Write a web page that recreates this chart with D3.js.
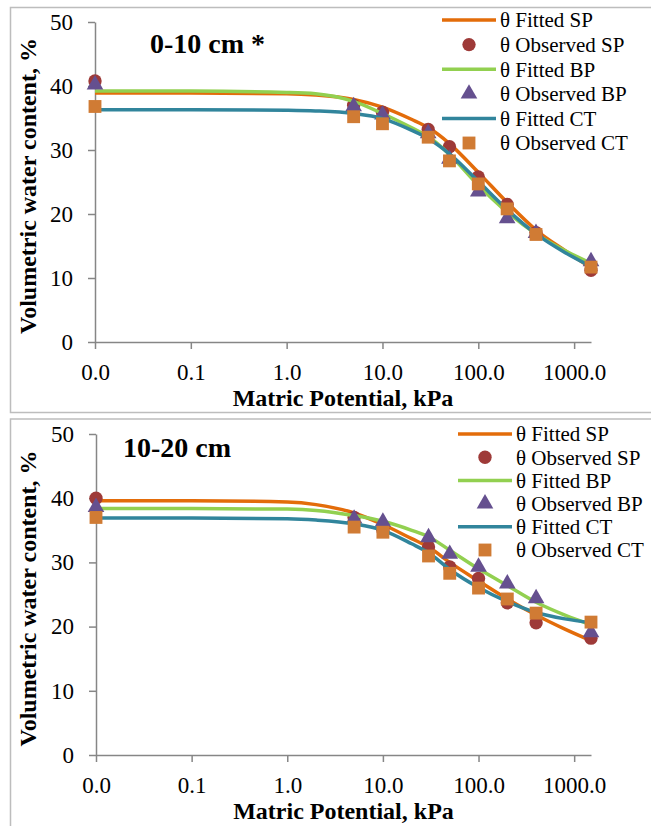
<!DOCTYPE html>
<html lang="en">
<head>
    <meta charset="UTF-8">
    <title>Water retention curves</title>
    <script src="https://d3js.org/d3.v7.min.js"></script>
    <style>
        body { margin: 0; background: #fff; }
        svg text { font-family: "Liberation Serif", "Times New Roman", serif; }
    </style>
</head>
<body>
<svg></svg>
<script>
    // matric potential (kPa) where samples were measured
    const potentials = [0.01, 5, 10, 30, 50, 100, 200, 400, 1500];
    const fitPotentials = [0.01, 0.1, 1, 2, 5, 10, 20, 30, 50, 100, 200, 400, 800, 1500];

    // 0-10 cm
    const obsSP_top = [40.8, 37.0, 35.9, 33.2, 30.5, 25.8, 21.5, 17.1, 11.2];
    const obsBP_top = [40.2, 36.8, 35.5, 32.6, 28.6, 23.5, 19.3, 17.0, 12.6];
    const obsCT_top = [36.8, 35.2, 34.1, 32.0, 28.3, 24.7, 20.8, 16.8, 11.7];
    const fitSP_top = [38.9, 38.9, 38.8, 38.6, 37.9, 36.7, 34.8, 33.5, 31.0, 26.5, 21.8, 17.5, 14.3, 11.6];
    const fitBP_top = [39.2, 39.2, 39.0, 38.8, 37.6, 35.7, 33.5, 32.1, 29.3, 24.5, 20.3, 16.9, 14.3, 12.3];
    const fitCT_top = [36.3, 36.3, 36.2, 36.1, 35.7, 34.9, 33.1, 31.8, 29.4, 25.1, 20.7, 16.9, 14.0, 11.8];

    // 10-20 cm
    const obsSP_bot = [40.0, 37.0, 35.0, 32.4, 29.3, 27.5, 23.7, 20.6, 18.2];
    const obsBP_bot = [38.6, 36.8, 36.3, 33.9, 31.3, 29.3, 26.7, 24.4, 19.1];
    const obsCT_bot = [37.0, 35.5, 34.7, 31.0, 28.3, 26.0, 24.3, 22.1, 20.7];
    const fitSP_bot = [39.6, 39.6, 39.4, 39.0, 37.7, 35.9, 33.7, 32.4, 30.0, 27.1, 24.3, 21.8, 19.6, 17.8];
    const fitBP_bot = [38.4, 38.4, 38.3, 38.1, 37.3, 36.4, 35.0, 34.0, 31.9, 29.0, 26.4, 23.8, 21.8, 20.3];
    const fitCT_bot = [36.9, 36.9, 36.8, 36.6, 36.0, 35.0, 32.9, 31.5, 28.9, 26.1, 23.9, 22.2, 21.2, 20.6];

    const xTicks = [0.01, 0.1, 1, 10, 100, 1000];
    const yTicks = [0, 10, 20, 30, 40, 50];
    const legendLabels = ["θ Fitted SP", "θ Observed SP", "θ Fitted BP", "θ Observed BP", "θ Fitted CT", "θ Observed CT"];

    const colors = {
        SP: "#e36c0a", obsSP: "#9e3a38",
        BP: "#92d050", obsBP: "#65508f",
        CT: "#31859c", obsCT: "#d07b34"
    };

    const serif = "'Liberation Serif', 'Times New Roman', serif";
    const width = 651, height = 826;
    const svg = d3.select("svg").attr("width", width).attr("height", height);

    const panels = [
        {
            title: "0-10 cm *", titleX: 150, titleY: 53,
            frameY: 7.5, frameH: 405,
            left: 95, right: 591, top: 22, bottom: 342,
            legendX: 442, legendY: 20, legendStep: 24.6,
            obs: [obsSP_top, obsBP_top, obsCT_top],
            fit: [fitSP_top, fitBP_top, fitCT_top]
        },
        {
            title: "10-20 cm", titleX: 123, titleY: 457,
            frameY: 419, frameH: 500,
            left: 96, right: 591, top: 434, bottom: 755,
            legendX: 458, legendY: 434, legendStep: 23.2,
            obs: [obsSP_bot, obsBP_bot, obsCT_bot],
            fit: [fitSP_bot, fitBP_bot, fitCT_bot]
        }
    ];

    const keys = ["SP", "BP", "CT"];
    const shapes = [d3.symbolCircle, d3.symbolTriangle, d3.symbolSquare];
    const shapeSizes = [140, 120, 165];

    panels.forEach(function (p) {
        // outer frame
        svg.append("rect")
            .attr("x", 10.5).attr("y", p.frameY)
            .attr("width", 700).attr("height", p.frameH)
            .attr("fill", "none")
            .attr("stroke", "#bdbdbd")
            .attr("stroke-width", 1.5);

        let x = d3.scaleLog().domain([0.01, 1500]).range([p.left, p.right]);
        let y = d3.scaleLinear().domain([0, 50]).range([p.bottom, p.top]);

        let xAxis = d3.axisBottom(x)
            .tickValues(xTicks)
            .tickFormat(d3.format(".1f"))
            .tickSize(7)
            .tickPadding(15)
            .tickSizeOuter(0);
        let yAxis = d3.axisLeft(y)
            .tickValues(yTicks)
            .tickSize(7)
            .tickPadding(15)
            .tickSizeOuter(0);

        let gx = svg.append("g")
            .attr("transform", "translate(0," + p.bottom + ")")
            .call(xAxis);
        let gy = svg.append("g")
            .attr("transform", "translate(" + p.left + ",0)")
            .call(yAxis);
        [gx, gy].forEach(function (g) {
            g.attr("font-family", serif).attr("font-size", 23);
            g.select(".domain").attr("stroke", "#868686").attr("stroke-width", 1.5);
            g.selectAll(".tick line").attr("stroke", "#868686").attr("stroke-width", 1.5);
            g.selectAll(".tick text").attr("fill", "#000");
        });

        // axis titles
        svg.append("text")
            .attr("x", (p.left + p.right) / 2 - 0)
            .attr("y", p.bottom + 64)
            .attr("text-anchor", "middle")
            .style("font-size", "24px")
            .style("font-weight", "bold")
            .text("Matric Potential, kPa");

        svg.append("text")
            .attr("transform", "translate(36," + ((p.top + p.bottom) / 2 + 4) + ") rotate(-90)")
            .attr("text-anchor", "middle")
            .style("font-size", "24px")
            .style("font-weight", "bold")
            .text("Volumetric water content, %");

        // panel title
        svg.append("text")
            .attr("x", p.titleX)
            .attr("y", p.titleY)
            .style("font-size", "28px")
            .style("font-weight", "bold")
            .text(p.title);

        let line = d3.line()
            .x(d => x(d[0]))
            .y(d => y(d[1]))
            .curve(d3.curveMonotoneX);

        // series in Excel order: fitted then observed for each treatment
        keys.forEach(function (k, i) {
            let fitData = fitPotentials.map((v, j) => [v, p.fit[i][j]]);
            svg.append("path")
                .datum(fitData)
                .attr("d", line)
                .attr("fill", "none")
                .attr("stroke", colors[k])
                .attr("stroke-width", 3.5);

            let obsData = potentials.map((v, j) => [v, p.obs[i][j]]);
            svg.append("g").selectAll("path")
                .data(obsData)
                .join("path")
                .attr("transform", d => "translate(" + x(d[0]) + "," + y(d[1]) + ")")
                .attr("d", d3.symbol().type(shapes[i]).size(shapeSizes[i]))
                .attr("fill", colors["obs" + k]);
        });

        // legend
        let lg = svg.append("g");
        legendLabels.forEach(function (label, i) {
            let cy = p.legendY + i * p.legendStep;
            let k = keys[Math.floor(i / 2)];
            if (i % 2 === 0) {
                lg.append("line")
                    .attr("x1", p.legendX).attr("x2", p.legendX + 54)
                    .attr("y1", cy).attr("y2", cy)
                    .attr("stroke", colors[k])
                    .attr("stroke-width", 3.5);
            } else {
                lg.append("path")
                    .attr("transform", "translate(" + (p.legendX + 27) + "," + cy + ")")
                    .attr("d", d3.symbol().type(shapes[Math.floor(i / 2)]).size(shapeSizes[Math.floor(i / 2)]))
                    .attr("fill", colors["obs" + k]);
            }
            lg.append("text")
                .attr("x", p.legendX + 58)
                .attr("y", cy)
                .attr("dy", "0.35em")
                .style("font-size", "21px")
                .style("font-family", serif)
                .text(label);
        });
    });
</script>
</body>
</html>
